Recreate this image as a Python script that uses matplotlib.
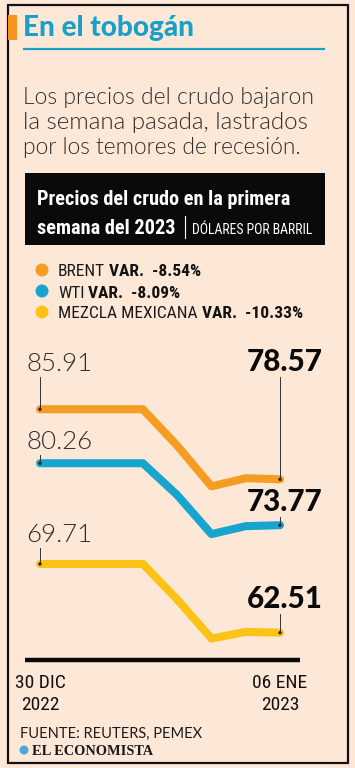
import os
import matplotlib
matplotlib.use('Agg')
import matplotlib.pyplot as plt
from matplotlib import font_manager as fm
from matplotlib.patches import Rectangle, Circle
from matplotlib.transforms import blended_transform_factory

# ---------------- data ----------------
days = ['30 DIC', '31 DIC', '01 ENE', '02 ENE', '03 ENE', '04 ENE', '05 ENE', '06 ENE']
brent = [85.91, 85.91, 85.91, 85.91, 82.10, 77.84, 78.69, 78.57]
wti = [80.26, 80.26, 80.26, 80.26, 76.93, 72.84, 73.67, 73.77]
mezcla = [69.71, 69.71, 69.71, 69.71, 66.00, 61.90, 62.60, 62.51]
series_names = ['BRENT', 'WTI', 'MEZCLA MEXICANA']
variations = ['-8.54%', '-8.09%', '-10.33%']
x_tick_labels = ['30 DIC\n2022', '06 ENE\n2023']

title = 'En el tobogán'
subtitle = ['Los precios del crudo bajaron', 'la semana pasada, lastrados', 'por los temores de recesión.']
header = ['Precios del crudo en la primera', 'semana del 2023']
units = 'DÓLARES POR BARRIL'
source = 'FUENTE: REUTERS, PEMEX'
brand = 'EL ECONOMISTA'

# ---------------- style ----------------
BG = '#FDE8D8'
ORANGE = '#F59D22'
BLUE = '#18A5CD'
YELLOW = '#FCC316'
TITLE_BLUE = '#1AA0C8'
colors = [ORANGE, BLUE, YELLOW]

TTF = fm.fontManager.ttflist


def _w(f):
    return f.weight if isinstance(f.weight, int) else {'normal': 400, 'bold': 700, 'light': 300}.get(f.weight, 400)


def find_face(families, wmin, wmax, condensed=False):
    """Return a FontProperties for the first face found in given families/weights."""
    for fam in families:
        for f in TTF:
            base = os.path.basename(f.fname).lower()
            if f.style != 'normal' or 'italic' in base or 'oblique' in base:
                continue
            if f.name != fam and fam.lower().replace(' ', '') not in base:
                continue
            is_cond = any(k in base for k in ('condensed', 'narrow', 'cond')) or f.stretch not in ('normal', 500)
            if condensed != is_cond:
                continue
            if 'extracondensed' in base or 'semicondensed' in base or 'ultracondensed' in base:
                continue
            if wmin <= _w(f) <= wmax:
                return fm.FontProperties(fname=f.fname)
    return None


def prop_or(p, family, weight):
    return p if p is not None else fm.FontProperties(family=family, weight=weight)


cond_fams = ['Liberation Sans Narrow', 'Roboto Condensed', 'Noto Sans', 'Open Sans', 'DejaVu Sans', 'Roboto', 'Liberation Sans']
NAR_B = prop_or(find_face(cond_fams, 600, 800, condensed=True), 'Roboto', 'bold')
NAR_R = prop_or(find_face(cond_fams, 350, 450, condensed=True), 'Roboto', 'normal')
LIGHT = prop_or(find_face(['Lato', 'Open Sans', 'Inter', 'Roboto', 'Noto Sans'], 280, 320), 'Lato', 'normal')
GEO_B = prop_or(find_face(['Lato'], 650, 750), 'Lato', 'bold')
GEO_BLACK = prop_or(find_face(['Lato'], 850, 950), 'Lato', 'bold')
GEO_R = prop_or(find_face(['Lato'], 380, 420), 'Lato', 'normal')
SERIF_B = fm.FontProperties(family=['Liberation Serif', 'DejaVu Serif'], weight='bold')

W, H = 355, 768
fig = plt.figure(figsize=(W / 100, H / 100), dpi=100, facecolor=BG)

bg = fig.add_axes([0, 0, 1, 1], zorder=0)
bg.set_xlim(0, W); bg.set_ylim(H, 0); bg.axis('off')

# chart axes mapped so that day 0 -> px 40, day 7 -> px 280
px_day0, px_per_day = 40.0, 34.29
v_ref, py_ref, px_per_unit = 75.12, 512.3, 9.55
cx0, cx1, cy0, cy1 = 20, 335, 330, 650
ax = fig.add_axes([cx0 / W, 1 - cy1 / H, (cx1 - cx0) / W, (cy1 - cy0) / H], zorder=1)
ax.set_xlim((cx0 - px_day0) / px_per_day, (cx1 - px_day0) / px_per_day)
ax.set_ylim(v_ref - (cy1 - py_ref) / px_per_unit, v_ref - (cy0 - py_ref) / px_per_unit)
ax.axis('off')
ax.patch.set_alpha(0)

fg = fig.add_axes([0, 0, 1, 1], zorder=2)
fg.set_xlim(0, W); fg.set_ylim(H, 0); fg.axis('off')
fg.patch.set_alpha(0)

fig.canvas.draw()
R = fig.canvas.get_renderer()


def txt(x, y, s, prop, size, target_w=None, **kw):
    t = fg.text(x, y, s, fontproperties=prop.copy(), va='baseline', **kw)
    t.set_fontsize(size)
    if target_w:
        w = t.get_window_extent(R).width
        if w > 0:
            t.set_fontsize(size * target_w / w)
    return t


# frame
bg.add_patch(Rectangle((7.5, 5), 340, 758, fill=False, lw=1.6, ec='#111111'))
# title
bg.add_patch(Rectangle((8, 15), 9, 25, color='#F7941D', lw=0))
txt(23, 36, title, GEO_BLACK, 16.5, 170, color=TITLE_BLUE)
bg.plot([23, 325], [49, 49], color=TITLE_BLUE, lw=1.6, solid_capstyle='butt')

# subtitle
sub_w = [290, 287, 277]
for i, line in enumerate(subtitle):
    txt(23, 104 + 25 * i, line, LIGHT, 16, sub_w[i], color='#2e2e2e')

# header box
bg.add_patch(Rectangle((25, 173), 300, 72, color='#0a0a0a', lw=0))
t1 = txt(37, 205, header[0], NAR_B, 15, 253, color='white')
t2 = txt(37, 234, header[1], NAR_B, t1.get_fontsize(), color='white')
bb = t2.get_window_extent(R)
xb = bb.x1 + 9
fg.plot([xb, xb], [216, 238], color='white', lw=0.8)
txt(xb + 7, 234, units, NAR_R, 11, 312 - xb - 7, color='white')

# legend
leg_y = [270, 291, 312]
LEG_FS = 12.5
for i in range(3):
    bg.add_patch(Circle((42, leg_y[i]), 6.5, color=colors[i], lw=0))
    tn = txt(58, leg_y[i] + 6.5, series_names[i], NAR_R, LEG_FS, color='#1a1a1a')
    bbn = tn.get_window_extent(R)
    txt(bbn.x1 + 4, leg_y[i] + 6.5, 'VAR.  ' + variations[i], NAR_B, LEG_FS, color='#111111')

# lines
xs = list(range(len(days)))
for vals, c in zip([brent, wti, mezcla], colors):
    ax.plot(xs, vals, color=c, lw=5.8, solid_capstyle='round', solid_joinstyle='round')


def to_px(day, v):
    d = ax.transData.transform((day, v))
    return d[0], H - d[1]


start_label_base = [371, 449, 542]
end_label_base = [371, 511, 608]
for i, vals in enumerate([brent, wti, mezcla]):
    px, py = to_px(0, vals[0])
    txt(26, start_label_base[i], f'{vals[0]:.2f}', LIGHT, 17.5, 66, color='#2e2e2e')
    fg.plot([px, px], [start_label_base[i] + 6, py], color='#333333', lw=0.7)
    fg.add_patch(Circle((px, py), 1.7, color='#222222', lw=0))
    px, py = to_px(len(vals) - 1, vals[-1])
    txt(285, end_label_base[i], f'{vals[-1]:.2f}', GEO_BLACK, 18, 76, color='#0a0a0a', ha='center')
    fg.plot([px, px], [end_label_base[i] + 6, py], color='#333333', lw=0.7)
    fg.add_patch(Circle((px, py), 1.7, color='#222222', lw=0))

# x axis
bg.plot([25, 300], [660, 660], color='#0a0a0a', lw=3.2, solid_capstyle='butt')
tr = blended_transform_factory(ax.transData, fg.transData)
XFS = 14
for day, lab in zip([0, len(days) - 1], x_tick_labels):
    l1, l2 = lab.split('\n')
    for yy, s in ((688, l1), (710, l2)):
        a = fg.text(day, yy, s, transform=tr, ha='center', va='baseline', fontproperties=NAR_R.copy(),
                    color='#111111')
        a.set_fontsize(XFS)

# footer
txt(20, 738, source, GEO_R, 10.5, 182, color='#1a1a1a')
fg.add_patch(Circle((24, 750), 4.5, color='#4BA8D6', lw=0))
txt(32, 755, brand, SERIF_B, 9.5, 121, color='#1a1a1a')

fig.savefig('out.png', dpi=100, facecolor=BG)
